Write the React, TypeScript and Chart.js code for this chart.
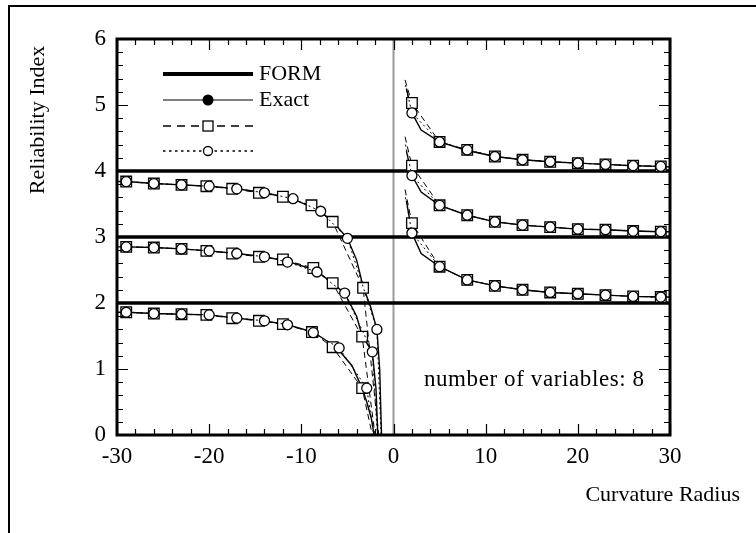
import React, { useEffect, useRef } from "react";
import { Chart, registerables } from "chart.js";

Chart.register(...registerables);

// ---- axis ----
const X_MIN = -30;
const X_MAX = 30;
const Y_MIN = 0;
const Y_MAX = 6;
const X_TICK_STEP = 10;
const Y_TICK_STEP = 1;

// ---- FORM reliability index levels (constant) ----
const FORM_LEVELS = [2, 3, 4];

// ---- exact curves, positive curvature radius ----
const EXACT_R_X = [1.4, 2, 3, 5, 8, 11, 14, 17, 20, 23, 26, 29, 30];
const EXACT_R_B4 = [5.25, 4.88, 4.62, 4.44, 4.31, 4.22, 4.17, 4.14, 4.12, 4.1, 4.08, 4.07, 4.06];
const EXACT_R_B3 = [4.3, 3.93, 3.68, 3.48, 3.33, 3.23, 3.18, 3.15, 3.12, 3.11, 3.09, 3.08, 3.08];
const EXACT_R_B2 = [3.55, 3.06, 2.75, 2.55, 2.35, 2.26, 2.2, 2.16, 2.14, 2.12, 2.1, 2.09, 2.09];

// ---- exact curves, negative curvature radius ----
const EXACT_L4_X = [-30, -29, -26, -23, -20, -17, -14, -11, -8, -6.5, -5, -4, -3.3, -2.5, -1.8, -1.5, -1.3];
const EXACT_L4_B = [3.84, 3.84, 3.81, 3.79, 3.77, 3.73, 3.67, 3.58, 3.4, 3.22, 2.98, 2.65, 2.25, 1.95, 1.6, 1.0, 0];
const EXACT_L3_X = [-30, -29, -26, -23, -20, -17, -14, -11.5, -8.5, -6.6, -5.3, -4, -3.4, -2.3, -1.9, -1.7];
const EXACT_L3_B = [2.85, 2.85, 2.84, 2.82, 2.79, 2.75, 2.7, 2.63, 2.5, 2.3, 2.15, 1.8, 1.5, 1.26, 0.7, 0];
const EXACT_L2_X = [-30, -29, -26, -23, -20, -17, -14, -11.5, -8.7, -6.2, -4.5, -3.4, -2.9, -2.4, -2.1];
const EXACT_L2_B = [1.86, 1.86, 1.84, 1.83, 1.82, 1.77, 1.73, 1.67, 1.56, 1.33, 1.05, 0.71, 0.5, 0.25, 0];

// ---- approximation 1 (dashed, squares); first right / last left point is the unmarked tail ----
const SQ_R_X = [1.25, 2, 5, 8, 11, 14, 17, 20, 23, 26, 29];
const SQ_R_B4 = [5.38, 5.03, 4.44, 4.32, 4.22, 4.17, 4.14, 4.12, 4.1, 4.08, 4.07];
const SQ_R_B3 = [4.52, 4.08, 3.48, 3.33, 3.23, 3.18, 3.15, 3.12, 3.11, 3.09, 3.08];
const SQ_R_B2 = [3.72, 3.21, 2.55, 2.35, 2.26, 2.2, 2.16, 2.14, 2.12, 2.1, 2.09];
const SQ_L4_X = [-29, -26, -23, -20.3, -17.5, -14.6, -12, -8.9, -6.6, -3.3, -1.6];
const SQ_L4_B = [3.84, 3.81, 3.79, 3.77, 3.73, 3.67, 3.61, 3.48, 3.23, 2.23, 0];
const SQ_L3_X = [-29, -26, -23, -20.3, -17.5, -14.6, -12, -8.7, -6.6, -3.4, -2.0];
const SQ_L3_B = [2.85, 2.84, 2.82, 2.79, 2.75, 2.7, 2.66, 2.53, 2.3, 1.49, 0];
const SQ_L2_X = [-29, -26, -23, -20.3, -17.5, -14.6, -12, -8.85, -6.6, -3.4, -2.3];
const SQ_L2_B = [1.86, 1.84, 1.83, 1.82, 1.77, 1.73, 1.68, 1.56, 1.33, 0.71, 0];

// ---- approximation 2 (dotted, circles) ----
const CI_R_X = [1.3, 2, 5, 8, 11, 14, 17, 20, 23, 26, 29];
const CI_R_B4 = [5.3, 4.88, 4.44, 4.32, 4.22, 4.17, 4.14, 4.12, 4.1, 4.08, 4.07];
const CI_R_B3 = [4.4, 3.93, 3.48, 3.33, 3.23, 3.18, 3.15, 3.12, 3.11, 3.09, 3.08];
const CI_R_B2 = [3.6, 3.06, 2.55, 2.35, 2.26, 2.2, 2.16, 2.14, 2.12, 2.1, 2.09];
const CI_L4_X = [-29, -26, -23, -20, -17, -14, -10.9, -7.9, -5, -1.8, -1.35];
const CI_L4_B = [3.84, 3.81, 3.79, 3.77, 3.73, 3.67, 3.58, 3.39, 2.98, 1.6, 0];
const CI_L3_X = [-29, -26, -23, -20, -17, -14, -11.5, -8.3, -5.3, -2.3, -1.75];
const CI_L3_B = [2.85, 2.84, 2.82, 2.79, 2.75, 2.7, 2.62, 2.47, 2.15, 1.26, 0];
const CI_L2_X = [-29, -26, -23, -20, -17, -14, -11.5, -8.7, -5.9, -2.9, -2.15];
const CI_L2_B = [1.86, 1.84, 1.83, 1.82, 1.77, 1.73, 1.67, 1.55, 1.32, 0.71, 0];

// ---- texts ----
const LEGEND_LABELS = ["FORM", "Exact", "", ""];
const X_TITLE = "Curvature Radius";
const Y_TITLE = "Reliability Index";
const NOTE = "number of variables: 8";
const NOTE_X = 3.3;
const NOTE_Y = 0.83;

const FONT = "'Liberation Serif', 'DejaVu Serif', serif";

const pts = (xs: number[], ys: number[]) => xs.map((x, i) => ({ x, y: ys[i] }));
// marker radius per point; the tail point next to the asymptote carries no marker
const radii = (xs: number[], r: number) => {
  const tail = xs[0] > 0 ? 0 : xs.length - 1;
  return xs.map((_, i) => (i === tail ? 0 : r));
};

export default function App() {
  const ref = useRef<HTMLCanvasElement>(null);

  useEffect(() => {
    const canvas = ref.current;
    if (!canvas) return;

    const circleSet = (xs: number[], ys: number[]) => ({
      data: pts(xs, ys),
      showLine: true,
      borderColor: "#000",
      borderWidth: 1,
      borderDash: [2, 3],
      pointStyle: "circle",
      pointRadius: radii(xs, 5),
      pointBackgroundColor: "#fff",
      pointBorderColor: "#000",
      pointBorderWidth: 1.3,
      order: 1,
    });
    const squareSet = (xs: number[], ys: number[]) => ({
      data: pts(xs, ys),
      showLine: true,
      borderColor: "#000",
      borderWidth: 1,
      borderDash: [6, 4],
      pointStyle: "rect",
      pointRadius: radii(xs, 7.5),
      pointBackgroundColor: "#fff",
      pointBorderColor: "#000",
      pointBorderWidth: 1.3,
      order: 2,
    });
    const exactSet = (xs: number[], ys: number[]) => ({
      data: pts(xs, ys),
      showLine: true,
      borderColor: "#000",
      borderWidth: 1.4,
      pointRadius: 0,
      order: 3,
    });
    const formSets = FORM_LEVELS.map((b) => ({
      data: [
        { x: X_MIN, y: b },
        { x: X_MAX, y: b },
      ],
      showLine: true,
      borderColor: "#000",
      borderWidth: 3.5,
      pointRadius: 0,
      order: 4,
    }));
    const zeroLine = {
      data: [
        { x: 0, y: Y_MIN },
        { x: 0, y: Y_MAX },
      ],
      showLine: true,
      borderColor: "#9a9a9a",
      borderWidth: 2,
      pointRadius: 0,
      order: 5,
    };

    const datasets: any[] = [
      zeroLine,
      ...formSets,
      exactSet(EXACT_R_X, EXACT_R_B4),
      exactSet(EXACT_R_X, EXACT_R_B3),
      exactSet(EXACT_R_X, EXACT_R_B2),
      exactSet(EXACT_L4_X, EXACT_L4_B),
      exactSet(EXACT_L3_X, EXACT_L3_B),
      exactSet(EXACT_L2_X, EXACT_L2_B),
      squareSet(SQ_R_X, SQ_R_B4),
      squareSet(SQ_R_X, SQ_R_B3),
      squareSet(SQ_R_X, SQ_R_B2),
      squareSet(SQ_L4_X, SQ_L4_B),
      squareSet(SQ_L3_X, SQ_L3_B),
      squareSet(SQ_L2_X, SQ_L2_B),
      circleSet(CI_R_X, CI_R_B4),
      circleSet(CI_R_X, CI_R_B3),
      circleSet(CI_R_X, CI_R_B2),
      circleSet(CI_L4_X, CI_L4_B),
      circleSet(CI_L3_X, CI_L3_B),
      circleSet(CI_L2_X, CI_L2_B),
    ];

    const decor = {
      id: "decor",
      afterDatasetsDraw(chart: any) {
        const c = chart.ctx as CanvasRenderingContext2D;
        const { left, right, top, bottom } = chart.chartArea;
        const xs = chart.scales.x;
        const ys = chart.scales.y;
        c.save();
        c.strokeStyle = "#000";
        c.lineWidth = 1.2;
        c.setLineDash([]);
        // y ticks (inside, both sides)
        for (let i = 0; i <= 30; i++) {
          const v = Y_MIN + i * 0.2;
          const y = Math.round(ys.getPixelForValue(v)) + 0.5;
          const len = i % 5 === 0 ? 11 : 6;
          c.beginPath();
          c.moveTo(left, y);
          c.lineTo(left + len, y);
          c.moveTo(right, y);
          c.lineTo(right - len, y);
          c.stroke();
        }
        // x ticks (inside, both sides)
        for (let i = 0; i <= 30; i++) {
          const v = X_MIN + i * 2;
          const x = Math.round(xs.getPixelForValue(v)) + 0.5;
          const len = v % 10 === 0 ? 11 : 6;
          c.beginPath();
          c.moveTo(x, bottom);
          c.lineTo(x, bottom - len);
          c.moveTo(x, top);
          c.lineTo(x, top + len);
          c.stroke();
        }
        // frame
        c.lineWidth = 3;
        c.strokeRect(left, top, right - left, bottom - top);

        // axis titles
        c.fillStyle = "#000";
        c.font = `22px ${FONT}`;
        c.textAlign = "right";
        c.textBaseline = "middle";
        c.fillText(X_TITLE, 740, 495);
        c.save();
        c.translate(38, 120);
        c.rotate(-Math.PI / 2);
        c.textAlign = "center";
        c.fillText(Y_TITLE, 0, 0);
        c.restore();

        // note
        c.save();
        c.font = `23px ${FONT}`;
        (c as any).letterSpacing = "0.6px";
        c.textAlign = "left";
        c.fillText(NOTE, xs.getPixelForValue(NOTE_X), ys.getPixelForValue(NOTE_Y));
        c.restore();

        // legend
        const lx0 = left + 46;
        const lx1 = left + 136;
        const mid = (lx0 + lx1) / 2;
        const rows = [top + 35, top + 61, top + 87, top + 112];
        // FORM
        c.lineWidth = 4;
        c.beginPath();
        c.moveTo(lx0, rows[0]);
        c.lineTo(lx1, rows[0]);
        c.stroke();
        // Exact
        c.lineWidth = 1.2;
        c.beginPath();
        c.moveTo(lx0, rows[1]);
        c.lineTo(lx1, rows[1]);
        c.stroke();
        c.beginPath();
        c.arc(mid, rows[1], 5.5, 0, Math.PI * 2);
        c.fill();
        // dashed + square
        c.lineWidth = 1.6;
        c.setLineDash([8, 6]);
        c.beginPath();
        c.moveTo(lx0, rows[2]);
        c.lineTo(mid - 8, rows[2]);
        c.moveTo(lx1, rows[2]);
        c.lineTo(mid + 8, rows[2]);
        c.stroke();
        c.setLineDash([]);
        c.lineWidth = 1.3;
        c.fillStyle = "#fff";
        c.fillRect(mid - 5, rows[2] - 5, 10, 10);
        c.strokeRect(mid - 5, rows[2] - 5, 10, 10);
        // dotted + circle
        c.lineWidth = 1.6;
        c.setLineDash([2.5, 3.5]);
        c.beginPath();
        c.moveTo(lx0, rows[3]);
        c.lineTo(mid - 6, rows[3]);
        c.moveTo(lx1, rows[3]);
        c.lineTo(mid + 6, rows[3]);
        c.stroke();
        c.setLineDash([]);
        c.lineWidth = 1.3;
        c.beginPath();
        c.arc(mid, rows[3], 4.5, 0, Math.PI * 2);
        c.fill();
        c.stroke();
        // legend labels
        c.fillStyle = "#000";
        c.textAlign = "left";
        LEGEND_LABELS.forEach((t, i) => {
          if (t) c.fillText(t, lx1 + 6, rows[i]);
        });
        c.restore();
      },
    };

    const chart = new Chart(canvas, {
      type: "scatter",
      data: { datasets },
      options: {
        animation: false,
        responsive: false,
        devicePixelRatio: 1,
        layout: { padding: { left: 0, top: 39, right: 86, bottom: 0 } },
        plugins: { legend: { display: false }, tooltip: { enabled: false } },
        scales: {
          x: {
            type: "linear",
            min: X_MIN,
            max: X_MAX,
            grid: { display: false, drawTicks: false },
            border: { display: false },
            ticks: {
              stepSize: X_TICK_STEP,
              padding: 8,
              color: "#000",
              font: { family: FONT, size: 23 },
            },
            afterFit: (s: any) => {
              s.height = 98;
            },
          },
          y: {
            type: "linear",
            min: Y_MIN,
            max: Y_MAX,
            grid: { display: false, drawTicks: false },
            border: { display: false },
            ticks: {
              stepSize: Y_TICK_STEP,
              padding: 11,
              color: "#000",
              font: { family: FONT, size: 23 },
            },
            afterFit: (s: any) => {
              s.width = 117;
            },
          },
        },
      },
      plugins: [decor],
    } as any);
    return () => chart.destroy();
  }, []);

  return (
    <div style={{ position: "absolute", left: 0, top: 0, width: 756, height: 533, background: "#fff" }}>
      <div
        style={{
          position: "absolute",
          left: 8,
          top: 5,
          width: 760,
          height: 540,
          borderLeft: "2px solid #000",
          borderTop: "2px solid #000",
          boxSizing: "border-box",
        }}
      />
      <canvas ref={ref} width={756} height={533} style={{ position: "absolute", left: 0, top: 0, width: 756, height: 533 }} />
    </div>
  );
}
